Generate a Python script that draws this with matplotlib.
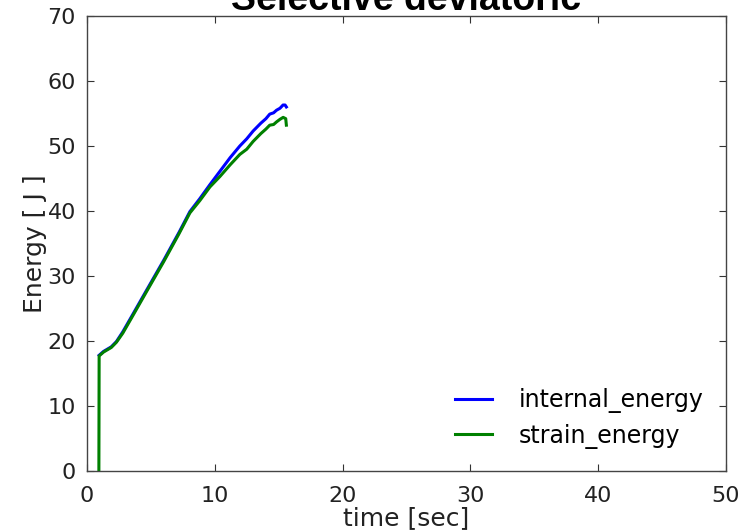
import matplotlib
matplotlib.use("Agg")
import matplotlib.pyplot as plt

# energy histories (time in s, energy in J)
t_internal = [0.95, 1.3, 1.9, 2.3, 2.8, 3.5, 4.66, 6.0, 7.2, 8.05, 8.83, 9.6,
              10.4, 11.2, 11.96, 12.5, 13.0, 13.6, 14.0, 14.3, 14.6, 14.83, 15.1,
              15.34, 15.5, 15.6]
e_internal = [17.8, 18.4, 19.1, 19.9, 21.4, 23.8, 27.8, 32.4, 36.7, 39.9, 41.9, 44.0,
              46.1, 48.2, 50.0, 51.1, 52.3, 53.5, 54.2, 54.9, 55.1, 55.5, 55.8,
              56.3, 56.3, 56.0]

t_strain = [0.93, 0.95, 1.3, 1.9, 2.3, 2.8, 3.5, 4.66, 6.0, 7.2, 8.05, 8.83, 9.62,
            10.4, 11.2, 11.96, 12.5, 13.0, 13.6, 14.0, 14.3, 14.6, 14.83, 15.1,
            15.35, 15.55, 15.6]
e_strain = [0.0, 17.7, 18.3, 19.0, 19.8, 21.2, 23.6, 27.6, 32.2, 36.5, 39.7, 41.6, 43.7,
            45.3, 47.1, 48.7, 49.5, 50.7, 51.9, 52.6, 53.2, 53.3, 53.7, 54.1,
            54.4, 54.2, 53.2]

x_ticks = [0, 10, 20, 30, 40, 50]
y_ticks = [0, 10, 20, 30, 40, 50, 60, 70]

fig = plt.figure(figsize=(7.48, 5.32), dpi=100)
ax = fig.add_axes([0.1163, 0.1147, 0.8543, 0.8553])

ax.plot(t_internal, e_internal, color="#0000ff", lw=2.2, label="internal_energy")
ax.plot(t_strain, e_strain, color="#008000", lw=2.2, label="strain_energy")

ax.set_xlim(0, 50)
ax.set_ylim(0, 70)
ax.set_xticks(x_ticks)
ax.set_yticks(y_ticks)
ax.tick_params(direction="in", length=5, width=0.8, labelsize=16, top=True,
               right=True, colors="#333333", labelcolor="#222222")
ax.tick_params(axis="x", pad=11)
ax.tick_params(axis="y", pad=8)
for s in ax.spines.values():
    s.set_color("#444444")
    s.set_linewidth(1.0)

ax.set_xlabel("time [sec]", fontsize=18, color="#222222", labelpad=0)
ax.set_ylabel("Energy [ J ]", fontsize=18, color="#222222", labelpad=0)
ax.set_title("Selective deviatoric", fontsize=27, fontweight="bold",
             family="Liberation Sans", pad=4)

ax.legend(loc="lower right", frameon=False, fontsize=17, handlelength=1.55,
          handletextpad=1.15, labelspacing=0.45, borderaxespad=0.55)

fig.savefig("out.png", dpi=100)
